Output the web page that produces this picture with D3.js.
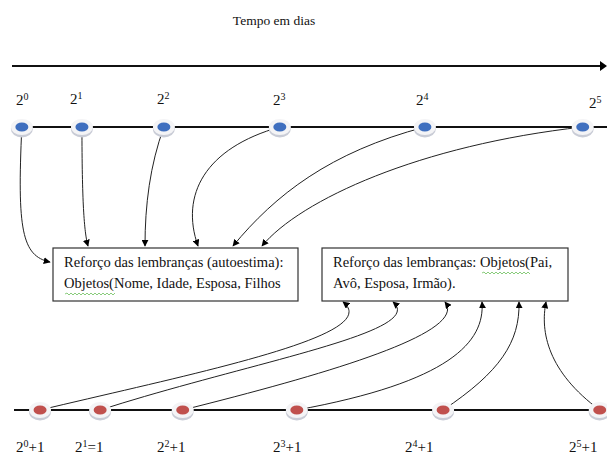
<!DOCTYPE html>
<html>
<head>
<meta charset="utf-8">
<script src="https://cdn.jsdelivr.net/npm/d3@7"></script>
<style>
  body { margin: 0; background: #FFF; }
  svg { display: block; }
</style>
</head>
<body>
<script>
  // exponents of the review intervals (days = 2^n)
  var exponents = [0, 1, 2, 3, 4, 5];
  // place of each review on the drawn time line, 0..100 (schematic)
  var topPlace = [3.6, 13.5, 27.0, 46.1, 70.0, 96.0];
  var bottomPlace = [6.6, 16.5, 30.1, 48.9, 73.0, 98.8];
  var bottomSuffix = ['+1', '=1', '+1', '+1', '+1', '+1'];
  var title = 'Tempo em dias';
  var box1Lines = ['Reforço das lembranças (autoestima):', 'Objetos(Nome, Idade, Esposa, Filhos'];
  var box2Lines = ['Reforço das lembranças: Objetos(Pai,', 'Avô, Esposa, Irmão).'];

  var W = 607, H = 458;
  var FONT = '"Liberation Serif", "Times New Roman", serif';
  var svg = d3.select('body').append('svg').attr('width', W).attr('height', H)
    .attr('font-family', FONT);
  var x = d3.scaleLinear().domain([0, 100]).range([0, W]);

  var yTime = 66, yTop = 127, yBot = 410;

  svg.append('defs').append('marker')
    .attr('id', 'arr').attr('viewBox', '0 0 10 10')
    .attr('refX', 9).attr('refY', 5)
    .attr('markerWidth', 7).attr('markerHeight', 7)
    .attr('markerUnits', 'userSpaceOnUse')
    .attr('orient', 'auto')
    .append('path').attr('d', 'M0,0L10,5L0,10z').attr('fill', '#000');

  // title + time arrow
  svg.append('text').attr('x', 274).attr('y', 25).attr('text-anchor', 'middle')
    .attr('font-family', FONT).attr('fill', '#111')
    .style('font-size', '13.5px').text(title);
  svg.append('line').attr('x1', 12).attr('x2', 603).attr('y1', yTime).attr('y2', yTime)
    .attr('stroke', '#111').attr('stroke-width', 2);
  svg.append('path').attr('d', 'M600,61L607,66L600,71z').attr('fill', '#000');

  // the two lines
  svg.append('line').attr('x1', 18).attr('x2', W).attr('y1', yTop).attr('y2', yTop)
    .attr('stroke', '#111').attr('stroke-width', 2);
  svg.append('line').attr('x1', 14).attr('x2', W).attr('y1', yBot).attr('y2', yBot)
    .attr('stroke', '#111').attr('stroke-width', 2);

  // boxes
  var boxes = [
    { x: 53, y: 248, w: 245, h: 53, lines: box1Lines, wave: [65, 115, 294] },
    { x: 322, y: 248, w: 246, h: 53, lines: box2Lines, wave: [482, 530, 273] }
  ];
  boxes.forEach(function(b) {
    svg.append('rect').attr('x', b.x).attr('y', b.y).attr('width', b.w).attr('height', b.h)
      .attr('fill', '#fff').attr('stroke', '#333').attr('stroke-width', 1.2);
    b.lines.forEach(function(t, i) {
      svg.append('text').attr('x', b.x + 11).attr('y', b.y + 19 + i * 21)
        .attr('font-family', FONT).attr('fill', '#111')
        .style('font-size', '14.5px').text(t);
    });
    // spell-check squiggle
    var p = d3.path(), up = true;
    p.moveTo(b.wave[0], b.wave[2]);
    for (var xx = b.wave[0] + 2; xx <= b.wave[1]; xx += 2) {
      p.lineTo(xx, b.wave[2] + (up ? -1 : 1));
      up = !up;
    }
    svg.append('path').attr('d', p.toString()).attr('fill', 'none')
      .attr('stroke', '#6bbf5a').attr('stroke-width', 0.8);
  });

  // connectors: top points -> box 1, bottom points -> box 2
  var topCtrl = [
    [[17, 230], [22, 256], [50, 262]],
    [[82, 200], [84, 232], [88, 246]],
    [[150, 165], [145, 205], [145, 246]],
    [[205, 148], [180, 195], [198, 246]],
    [[330, 152], [275, 195], [233, 246]],
    [[420, 145], [300, 200], [262, 246]]
  ];
  var botCtrl = [
    [[200, 372], [385, 335], [343, 302]],
    [[250, 362], [428, 332], [393, 302]],
    [[335, 372], [468, 332], [445, 302]],
    [[450, 382], [485, 342], [482, 302]],
    [[500, 372], [520, 342], [519, 302]],
    [[548, 372], [540, 332], [546, 302]]
  ];
  function connector(x0, y0, c) {
    var p = d3.path();
    p.moveTo(x0, y0);
    p.bezierCurveTo(c[0][0], c[0][1], c[1][0], c[1][1], c[2][0], c[2][1]);
    return p.toString();
  }
  svg.selectAll('.ctop').data(topPlace).enter().append('path')
    .attr('d', function(d, i) { return connector(x(d), yTop, topCtrl[i]); })
    .attr('fill', 'none').attr('stroke', '#222').attr('stroke-width', 1)
    .attr('marker-end', 'url(#arr)');
  svg.selectAll('.cbot').data(bottomPlace).enter().append('path')
    .attr('d', function(d, i) { return connector(x(d), yBot, botCtrl[i]); })
    .attr('fill', 'none').attr('stroke', '#222').attr('stroke-width', 1)
    .attr('marker-end', 'url(#arr)');

  // points
  function dots(places, y, color) {
    var g = svg.append('g').selectAll('g').data(places).enter().append('g')
      .attr('transform', function(d) { return 'translate(' + x(d) + ',' + y + ')'; });
    g.append('ellipse').attr('cy', 2).attr('rx', 11).attr('ry', 8.5).attr('fill', '#c9ccd6');
    g.append('ellipse').attr('rx', 11).attr('ry', 8).attr('fill', '#f4f4f6');
    g.append('ellipse').attr('rx', 6.5).attr('ry', 4.5).attr('fill', color);
  }
  dots(topPlace, yTop, '#3f6fbf');
  dots(bottomPlace, yBot, '#c0504d');

  // labels
  var topLabelX = [16, 70, 157, 273, 416, 589];
  var topLabelY = [105, 104, 104, 105, 105, 108];
  var botLabelX = [16, 75, 157, 273, 405, 569];
  function powLabel(px, py, e, suffix) {
    var t = svg.append('text').attr('x', px).attr('y', py)
      .attr('font-family', FONT).attr('fill', '#111').style('font-size', '15px');
    t.append('tspan').text('2');
    t.append('tspan').attr('dy', -5).style('font-size', '10px').text(e);
    if (suffix) t.append('tspan').attr('dy', 5).text(suffix);
  }
  exponents.forEach(function(e, i) {
    powLabel(topLabelX[i], topLabelY[i], e, '');
    powLabel(botLabelX[i], 452, e, bottomSuffix[i]);
  });
</script>
</body>
</html>
